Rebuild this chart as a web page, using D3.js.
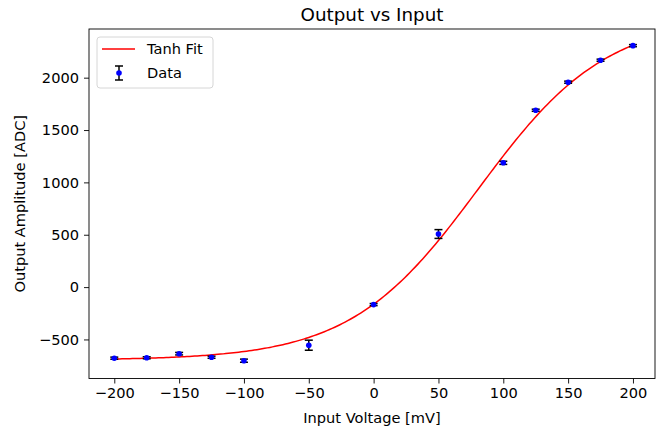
<!DOCTYPE html>
<html lang="en">
<head>
<meta charset="UTF-8">
<title>Output vs Input</title>
<style>
  body { margin: 0; background: #fff; }
  text { font-family: "DejaVu Sans", sans-serif; fill: #000; }
</style>
</head>
<body>
<svg id="chart" width="656" height="429"></svg>
<script src="https://cdn.jsdelivr.net/npm/d3@7"></script>
<script>
// measured points
const voltages = [-200, -175, -150, -125, -100, -50, 0, 50, 100, 125, 150, 175, 200];
const amplitudes = [-679, -675, -636, -670, -703, -555, -167, 507, 1187, 1689, 1957, 2167, 2306];
const errors = [10, 10, 12, 10, 15, 48, 10, 42, 15, 10, 10, 10, 10];
// tanh fit params: y = C + A*tanh((x - x0)/w)
const fitA = 1640, fitC = 942, fitX0 = 81, fitW = 99;
const xTicks = [-200, -150, -100, -50, 0, 50, 100, 150, 200];
const yTicks = [-500, 0, 500, 1000, 1500, 2000];

const svg = d3.select("#chart");
const mLeft = 89, mRight = 655, mTop = 29, mBottom = 378.5;

const x = d3.scaleLinear().domain([-219.5, 217]).range([mLeft, mRight]);
const y = d3.scaleLinear().domain([-873, 2465]).range([mBottom, mTop]);

const pts = voltages.map((v, i) => ({ x: v, y: amplitudes[i], e: errors[i] }));
const fitPts = d3.range(-200, 200.01, 2).map(v => ({ x: v, y: fitC + fitA * Math.tanh((v - fitX0) / fitW) }));

// fit line
svg.append("path")
  .datum(fitPts)
  .attr("fill", "none")
  .attr("stroke", "#ff0000")
  .attr("stroke-width", 1.5)
  .attr("d", d3.line().x(d => x(d.x)).y(d => y(d.y)));

// error bars
const eb = svg.append("g").attr("stroke", "#000").attr("stroke-width", 1.5);
pts.forEach(d => {
  eb.append("line").attr("x1", x(d.x)).attr("x2", x(d.x)).attr("y1", y(d.y - d.e)).attr("y2", y(d.y + d.e));
  [d.y - d.e, d.y + d.e].forEach(v => {
    eb.append("line").attr("x1", x(d.x) - 4).attr("x2", x(d.x) + 4).attr("y1", y(v)).attr("y2", y(v));
  });
});

svg.append("g").selectAll("circle")
  .data(pts)
  .enter()
  .append("circle")
  .attr("cx", d => x(d.x))
  .attr("cy", d => y(d.y))
  .attr("r", 2.8)
  .attr("fill", "#0000ff");

// axes
const fmt = d => d3.format("d")(d).replace("-", "\u2212");
const xAxis = svg.append("g")
  .attr("transform", `translate(0,${mBottom})`)
  .call(d3.axisBottom(x).tickValues(xTicks).tickSize(5).tickPadding(4).tickFormat(fmt));
const yAxis = svg.append("g")
  .attr("transform", `translate(${mLeft},0)`)
  .call(d3.axisLeft(y).tickValues(yTicks).tickSize(5).tickPadding(5).tickFormat(fmt));
[xAxis, yAxis].forEach(a => {
  a.select(".domain").remove();
  a.selectAll("line").attr("stroke", "#000").attr("stroke-width", 0.9);
  a.selectAll("text").style("font-size", "14.6px").style("font-family", "DejaVu Sans").attr("fill", "#000");
});

svg.append("rect")
  .attr("x", mLeft).attr("y", mTop)
  .attr("width", mRight - mLeft).attr("height", mBottom - mTop)
  .attr("fill", "none").attr("stroke", "#000").attr("stroke-width", 0.9);

// labels
svg.append("text").attr("x", (mLeft + mRight) / 2).attr("y", 21)
  .attr("text-anchor", "middle").style("font-size", "18.3px").text("Output vs Input");
svg.append("text").attr("x", (mLeft + mRight) / 2).attr("y", 423)
  .attr("text-anchor", "middle").style("font-size", "14.6px").text("Input Voltage [mV]");
svg.append("text").attr("transform", `translate(25,${(mTop + mBottom) / 2}) rotate(-90)`)
  .attr("text-anchor", "middle").style("font-size", "14.6px").text("Output Amplitude [ADC]");

// legend
const lg = svg.append("g");
lg.append("rect").attr("x", 97).attr("y", 37).attr("width", 116).attr("height", 51)
  .attr("rx", 3).attr("fill", "#fff").attr("fill-opacity", 0.8)
  .attr("stroke", "#d6d6d6").attr("stroke-width", 1);
lg.append("line").attr("x1", 102).attr("x2", 135).attr("y1", 49).attr("y2", 49)
  .attr("stroke", "#ff0000").attr("stroke-width", 1.5);
lg.append("text").attr("x", 147).attr("y", 54).style("font-size", "14.6px").text("Tanh Fit");
const lx = 119, ly = 73;
lg.append("line").attr("x1", lx).attr("x2", lx).attr("y1", ly - 7).attr("y2", ly + 7).attr("stroke", "#000").attr("stroke-width", 1.5);
lg.append("line").attr("x1", lx - 4).attr("x2", lx + 4).attr("y1", ly - 7).attr("y2", ly - 7).attr("stroke", "#000").attr("stroke-width", 1.5);
lg.append("line").attr("x1", lx - 4).attr("x2", lx + 4).attr("y1", ly + 7).attr("y2", ly + 7).attr("stroke", "#000").attr("stroke-width", 1.5);
lg.append("circle").attr("cx", lx).attr("cy", ly).attr("r", 2.8).attr("fill", "#0000ff");
lg.append("text").attr("x", 147).attr("y", 78).style("font-size", "14.6px").text("Data");
</script>
</body>
</html>
